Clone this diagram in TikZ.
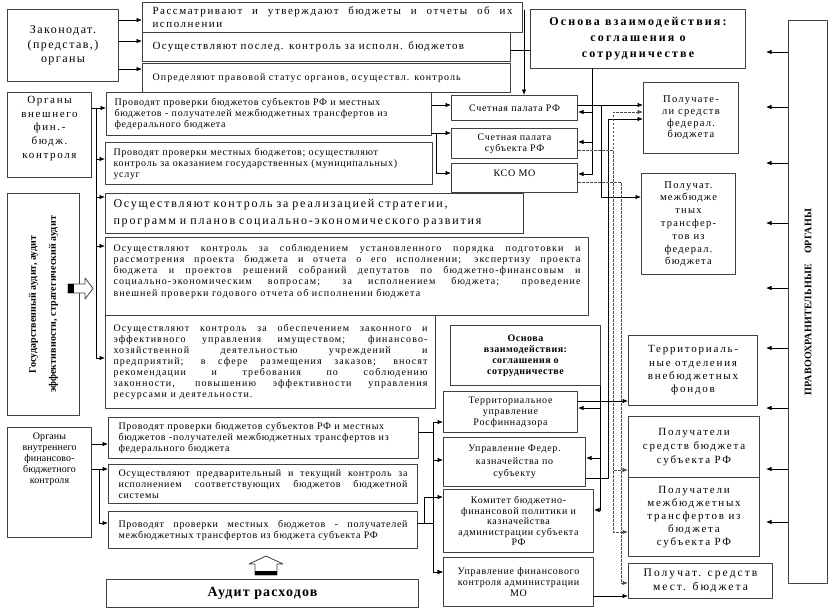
\documentclass[tikz,border=0pt]{standalone}
\usepackage{fontspec}
\setmainfont{Liberation Serif}
\usepackage{graphicx}
\usetikzlibrary{arrows.meta}
\newcommand\ftxt[3]{\fontsize{#1}{#2}\selectfont\addfontfeature{LetterSpace=#3}\tolerance=10000\hyphenpenalty=10000\exhyphenpenalty=10000}
\newcommand\ftxtb[3]{\fontsize{#1}{#2}\bfseries\addfontfeature{LetterSpace=#3}}
\begin{document}
\begin{tikzpicture}[x=1pt,y=-1pt,line cap=round,line join=round,
  box/.style={draw=black!75,line width=1pt,fill=white,anchor=north west,
    inner xsep=4pt,inner ysep=1pt,align=center,font=\ftxt{10}{11}{7}},
  arr/.style={line width=0.75pt,-{Latex[length=5.5pt,width=4.5pt]}},
  dsh/.style={arr,draw=black!70,line width=0.85pt,line cap=butt,dash pattern=on 2.5pt off 1.5pt}]
  \useasboundingbox (0,0) rectangle (837,611);

  % Legislative (representative) bodies and their three tasks.
  \node[box,minimum width=111pt,minimum height=72pt,font=\ftxt{12}{14.5}{12}] (zak) at (7,9) {Законодат.\\(представ,)\\органы};
  \node[box,minimum width=380pt,minimum height=30pt,text width=360pt,inner xsep=10pt,align=justify,font=\ftxt{11}{13}{14}] (rass) at (142,2)
   {Рассматривают и утверждают бюджеты и отчеты об их\linebreak исполнении};
  \node[box,minimum width=368pt,minimum height=29pt,text width=348pt,inner xsep=10pt,align=left,font=\ftxt{11}{13}{12}] (posl) at (142,32)
   {Осуществляют послед. контроль за исполн. бюджетов};
  \node[box,minimum width=368pt,minimum height=29pt,text width=348pt,inner xsep=10pt,align=left,font=\ftxt{10}{12}{11}] (opr) at (142,63)
   {Определяют правовой статус органов, осуществл. контроль};
  \node[box,minimum width=215pt,minimum height=59pt,font=\ftxtb{12}{16}{18}] (osn1) at (530,9) {Основа взаимодействия:\\соглашения о\\сотрудничестве};
  \coordinate (rtop) at (524,10);

  % External financial and budget control bodies.
  \node[box,minimum width=84pt,minimum height=85pt,text width=76pt,text height=10pt,text depth=73pt,font=\ftxt{11}{13.7}{15}] (vnesh) at (7,92)
   {Органы\\внешнего\\фин.-\\бюдж.\\контроля};
  \node[box,minimum width=325pt,minimum height=43pt,text width=309pt,inner xsep=8pt,align=left] (pr1) at (106,92)
   {Проводят проверки бюджетов субъектов РФ и местных\\бюджетов - получателей межбюджетных трансфертов из\\федерального бюджета};
  \node[box,minimum width=327pt,minimum height=42pt,text width=311pt,inner xsep=8pt,align=left] (pr2) at (105,142)
   {Проводят проверки местных бюджетов; осуществляют\\контроль за оказанием государственных (муниципальных)\\услуг};
  \node[box,minimum width=126pt,minimum height=25pt] (sprf) at (451,95) {Счетная палата РФ};
  \node[box,minimum width=126pt,minimum height=30pt] (spsub) at (451,128) {Счетная палата\\субъекта РФ};
  \node[box,minimum width=126pt,minimum height=29pt,text width=118pt,text height=12pt,text depth=15pt] (kso) at (451,163) {КСО МО};

  % Recipients of budget funds.
  \node[box,minimum width=95pt,minimum height=71pt,font=\ftxt{10.5}{11.7}{12}] (polfed) at (643,82) {Получате-\\ли средств\\федерал.\\бюджета};
  \node[box,minimum width=94pt,minimum height=101pt,font=\ftxt{10.5}{12.8}{12}] (polmb) at (641,173)
   {Получат.\\межбюдже\\тных\\трансфер-\\тов из\\федерал.\\бюджета};
  \node[box,minimum width=129pt,minimum height=70pt,font=\ftxt{11}{13.3}{16}] (terrotd) at (628,335) {Территориаль-\\ные отделения\\внебюджетных\\фондов};
  \node[box,minimum width=131pt,minimum height=61pt,font=\ftxt{11}{14}{16}] (polsub) at (628,416) {Получатели\\средств бюджета\\субъекта РФ};
  \node[box,minimum width=131pt,minimum height=79pt,font=\ftxt{11}{13}{16}] (polmbsub) at (628,477)
   {Получатели\\межбюджетных\\трансфертов из\\бюджета\\субъекта РФ};
  \node[box,minimum width=144pt,minimum height=35pt,font=\ftxt{11.5}{14}{18}] (polmest) at (628,563) {Получат. средств\\мест. бюджета};

  % Law enforcement column on the right.
  \node[box,minimum width=39pt,minimum height=563pt,font=\ftxtb{10}{12}{2}] (pravo) at (788,20)
   {\rotatebox{90}{ПРАВООХРАНИТЕЛЬНЫЕ\hspace{10pt}ОРГАНЫ}};

  % State audit and the areas of control.
  \node[box,minimum width=72pt,minimum height=222pt,font=\ftxtb{10}{12}{1}] (gosaud) at (7,193)
   {\rotatebox{90}{\begin{tabular}{@{}c@{}}Государственный аудит, аудит\\[8pt]эффективности, стратегический аудит\end{tabular}}};
  \node[box,minimum width=418pt,minimum height=40pt,text width=402pt,inner xsep=8pt,align=left,font=\ftxt{12}{17}{15}] (strat) at (105,193)
   {Осуществляют контроль за реализацией стратегии,\\программ и планов социально-экономического развития};
  \node[box,minimum width=483pt,minimum height=78pt,text width=467pt,inner xsep=8pt,align=justify,text height=12.5pt,text depth=63.5pt,font=\ftxt{10}{11.3}{11}] (sobl) at (105,237)
   {Осуществляют контроль за соблюдением установленного порядка подготовки и\linebreak
    рассмотрения проекта бюджета и отчета о его исполнении; экспертизу проекта\linebreak
    бюджета и проектов решений собраний депутатов по бюджетно-финансовым и\linebreak
    социально-экономическим вопросам; за исполнением бюджета; проведение\linebreak
    внешней проверки годового отчета об исполнении бюджета};
  \node[box,minimum width=330pt,minimum height=93pt,text width=314pt,inner xsep=8pt,align=justify,font=\ftxt{10}{11}{11}] (obesp) at (105,315)
   {Осуществляют контроль за обеспечением законного и\linebreak
    эффективного управления имуществом; финансово-\linebreak
    хозяйственной деятельностью учреждений и\linebreak
    предприятий; в сфере размещения заказов; вносят\linebreak
    рекомендации и требования по соблюдению\linebreak
    законности, повышению эффективности управления\linebreak
    ресурсами и деятельности.};

  % Internal control bodies and their partners.
  \node[box,minimum width=150pt,minimum height=60pt,font=\ftxtb{10}{11}{5}] (osn2) at (450,325) {Основа\\взаимодействия:\\соглашения о\\сотрудничестве};
  \node[box,minimum width=134pt,minimum height=41pt] (terrupr) at (443,391) {Территориальное\\управление\\Росфиннадзора};
  \node[box,minimum width=142pt,minimum height=49pt,font=\ftxt{10}{12.5}{7}] (kazn) at (443,437) {Управление Федер.\\казначейства по\\субъекту};
  \node[box,minimum width=150pt,minimum height=63pt,font=\ftxt{10}{10.5}{7}] (komitet) at (443,489)
   {Комитет бюджетно-\\финансовой политики и\\казначейства\\администрации субъекта\\РФ};
  \node[box,minimum width=150pt,minimum height=49pt] (upfk) at (443,557) {Управление финансового\\контроля администрации\\МО};
  \node[box,minimum width=84pt,minimum height=110pt,text width=76pt,text height=11pt,text depth=97pt,font=\ftxt{10}{11}{1}] (vnutr) at (7,427)
   {Органы\\внутреннего\\финансово-\\бюджетного\\контроля};
  \node[box,minimum width=310pt,minimum height=41pt,text width=290pt,inner xsep=10pt,align=left] (pb1) at (108,417)
   {Проводят проверки бюджетов субъектов РФ и местных\\бюджетов -получателей межбюджетных трансфертов из\\федерального бюджета};
  \node[box,minimum width=309pt,minimum height=39pt,text width=289pt,inner xsep=10pt,align=justify] (pb2) at (108,464)
   {Осуществляют предварительный и текущий контроль за\linebreak исполнением соответствующих бюджетов бюджетной\linebreak системы};
  \node[box,minimum width=309pt,minimum height=37pt,text width=289pt,inner xsep=10pt,align=justify] (pb3) at (108,511)
   {Проводят проверки местных бюджетов - получателей\linebreak межбюджетных трансфертов из бюджета субъекта РФ};
  \node[box,minimum width=312pt,minimum height=28pt,font=\ftxtb{14}{16}{8}] (audit) at (106,579) {Аудит расходов};

  % Hollow block arrows.
  \filldraw[fill=white,draw=black!75,line width=0.8pt] (68,284) -- (85,284) -- (85,278) -- (93,288.5) -- (85,299) -- (85,293) -- (68,293) -- cycle;
  \fill (68,284) rectangle (74,293);
  \filldraw[fill=white,draw=black!75,line width=0.8pt] (255,575) -- (255,564) -- (249,564) -- (266,556) -- (283,564) -- (277,564) -- (277,575) -- cycle;
  \fill (255,571) rectangle (277,575);

  % Legislative bodies to their tasks and to the accounts chamber.
  \draw[arr] (zak.east |- 0,20) -- (rass.west |- 0,20);
  \draw[arr] (zak.east |- 0,41) -- (posl.west |- 0,41);
  \draw[arr] (zak.east |- 0,69) -- (opr.west |- 0,69);
  \draw (posl.east |- 0,50) -- (osn1.west |- 0,50);
  \draw[arr] (rtop) -- (rtop |- sprf.north);
  \foreach \nd/\yy in {sprf/112,spsub/142,kso/174}
   \draw[arr] (osn1.south -| 592,0) |- (\nd.east |- 0,\yy);

  % External control bodies.
  \draw[arr] (vnesh.east |- 0,108) -- (pr1.west |- 0,108);
  \foreach \nd/\yy in {pr2/159,strat/197,sobl/246,obesp/358}
   \draw[arr] (vnesh.east |- 0,108) -- +(4,0) |- (\nd.west |- 0,\yy);
  \draw[arr] (pr1.east |- 0,105) -- (sprf.west |- 0,105);
  \draw[arr] (pr1.east |- 0,133) -- (spsub.west |- 0,133);
  \draw[arr] (pr1.east |- 0,133) -- +(4,0) |- (kso.west |- 0,173);

  % Controlled recipients.
  \draw[arr] (sprf.east |- 0,105) -- (polfed.west |- 0,105);
  \draw[arr] (sprf.east |- 0,105) -- +(23,0) |- (polmb.west |- 0,197);
  \draw[arr] (kazn.east |- 0,478) -- +(22,0) |- (polfed.west |- 0,119);
  \foreach \nd/\yy in {polfed/112,polsub/470,polmbsub/532}
   \draw[dsh] (spsub.east |- 0,150) -- +(35,0) |- (\nd.west |- 0,\yy);
  \draw[dsh] (kso.east |- 0,182) -- +(43,0) |- (polmest.west |- 0,583);
  \draw[arr] (terrupr.east |- 0,401) -- (terrotd.west |- 0,401);
  \draw[arr] (upfk.east |- 0,596) -- (polmest.west |- 0,596);
  \foreach \nd/\yy in {terrupr/408,kazn/458,komitet/510}
   \draw[arr] ([xshift=-1pt]osn2.south east) |- (\nd.east |- 0,\yy);

  % Internal control bodies.
  \draw[arr] (vnutr.east |- 0,444) -- (pb1.west |- 0,444);
  \draw[arr] (vnutr.east |- 0,469) -- (pb2.west |- 0,469);
  \draw[arr] (vnutr.east |- 0,469) -- +(7,0) |- (pb3.west |- 0,523);
  \foreach \nd/\yy in {terrupr/422,kazn/460,upfk/572}
   \draw[arr] (pb1.east |- 0,432) -- +(14,0) |- (\nd.west |- 0,\yy);
  \draw[arr] (pb3.east |- 0,523) -- +(15,0) |- (upfk.west |- 0,572);
  \draw[arr] (pb3.east |- 0,523) -- +(6,0) |- (komitet.west |- 0,497);

  % Law enforcement arrows.
  \foreach \yy in {52,107,163,223,288,348,408,469,522}
   \draw[arr] (pravo.west |- 0,\yy) -- +(-22,0);
\end{tikzpicture}
\end{document}
